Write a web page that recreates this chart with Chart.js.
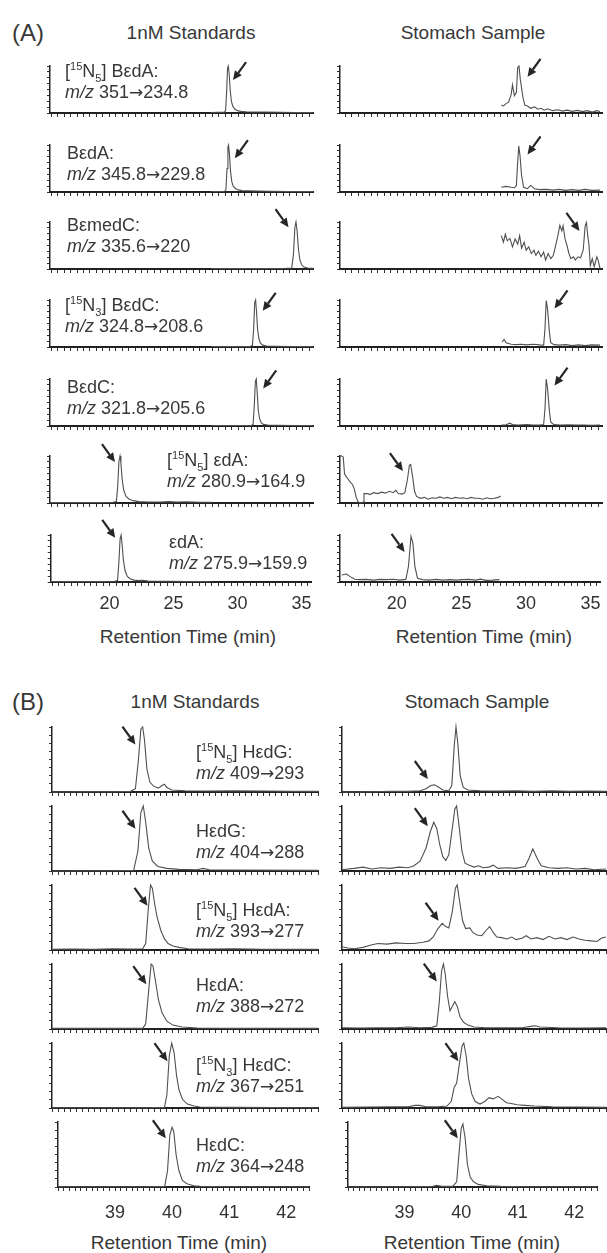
<!DOCTYPE html>
<html>
<head>
<meta charset="utf-8">
<script src="https://cdn.jsdelivr.net/npm/chart.js@4.4.1/dist/chart.umd.min.js"></script>
<style>
  body { margin: 0; background: #fff; }
  #page { position: relative; width: 607px; height: 1253px; overflow: hidden;
          font-family: "Liberation Sans", Arial, sans-serif; color: #383838; }
  canvas { position: absolute; }
  .t { position: absolute; white-space: nowrap; }
  .head { font-size: 19px; width: 300px; text-align: center; line-height: 24px; }
  .tag { font-size: 24px; line-height: 28px; }
  .lab { font-size: 18px; line-height: 21px; }
  .lab sup, .lab sub { font-size: 11px; line-height: 0; }
  .arr { font-family: "DejaVu Sans", sans-serif; font-size: 17px; }
</style>
</head>
<body>
<div id="page">
  <div class="t tag" style="left:12px; top:19px">(A)</div>
  <div class="t head" style="left:41px; top:21px">1nM Standards</div>
  <div class="t head" style="left:323px; top:21px">Stomach Sample</div>
  <div class="t head" style="left:38px; top:625px">Retention Time (min)</div>
  <div class="t head" style="left:334px; top:625px">Retention Time (min)</div>

  <div class="t tag" style="left:12px; top:688px">(B)</div>
  <div class="t head" style="left:45px; top:690px">1nM Standards</div>
  <div class="t head" style="left:327px; top:690px">Stomach Sample</div>
  <div class="t head" style="left:29px; top:1231px">Retention Time (min)</div>
  <div class="t head" style="left:322px; top:1231px">Retention Time (min)</div>
</div>
<script>
// tick labels
const ticksA = [20, 25, 30, 35];
const ticksB = [39, 40, 41, 42];

// panel captions
const namesA = ['BεdA', 'BεdA', 'BεmedC', 'BεdC', 'BεdC', 'εdA', 'εdA'];
const isotopesA = ['15N5', '', '', '15N3', '', '15N5', ''];
const transitionsA = ['351→234.8', '345.8→229.8', '335.6→220', '324.8→208.6', '321.8→205.6', '280.9→164.9', '275.9→159.9'];
const namesB = ['HεdG', 'HεdG', 'HεdA', 'HεdA', 'HεdC', 'HεdC'];
const isotopesB = ['15N5', '', '15N5', '', '15N3', ''];
const transitionsB = ['409→293', '404→288', '393→277', '388→272', '367→251', '364→248'];

// (A) 1nM standards, [time (min), relative intensity]
const stdA1 = [[27.9,0.01],[28.4,0.015],[28.9,0.015],[29.02,0.05],[29.1,0.45],[29.17,0.95],[29.23,1.0],[29.3,0.82],[29.38,0.48],[29.47,0.25],[29.58,0.14],[29.75,0.08],[29.95,0.05],[30.2,0.035],[30.6,0.025],[31.3,0.02],[32.2,0.02],[33.2,0.015],[34.5,0.01],[35.8,0.01]];
const stdA2 = [[27.9,0.01],[28.5,0.01],[28.95,0.015],[29.05,0.06],[29.13,0.5],[29.2,0.96],[29.25,1.0],[29.32,0.8],[29.4,0.45],[29.5,0.22],[29.62,0.12],[29.8,0.07],[30.0,0.045],[30.3,0.03],[30.8,0.025],[31.5,0.02],[32.5,0.015],[33.8,0.01],[35.8,0.01]];
const stdA3 = [[27.9,0.01],[29.0,0.01],[30.5,0.01],[32.0,0.01],[33.5,0.012],[34.15,0.02],[34.28,0.3],[34.4,0.9],[34.48,1.0],[34.57,0.8],[34.67,0.42],[34.78,0.2],[34.92,0.09],[35.1,0.04],[35.4,0.02],[35.8,0.015]];
const stdA4 = [[27.9,0.01],[29.0,0.01],[30.0,0.01],[30.9,0.012],[31.1,0.03],[31.2,0.4],[31.28,0.95],[31.35,1.0],[31.42,0.75],[31.5,0.38],[31.6,0.18],[31.72,0.08],[31.9,0.04],[32.2,0.02],[32.8,0.015],[34.0,0.01],[35.8,0.01]];
const stdA5 = [[27.9,0.01],[29.0,0.01],[30.2,0.01],[31.0,0.012],[31.15,0.03],[31.25,0.45],[31.33,0.95],[31.4,1.0],[31.47,0.72],[31.55,0.35],[31.65,0.16],[31.78,0.07],[31.95,0.035],[32.3,0.02],[33.0,0.015],[34.2,0.01],[35.8,0.01]];
const stdA6 = [[15.4,0.01],[16.5,0.01],[17.5,0.012],[18.5,0.01],[19.5,0.012],[20.3,0.015],[20.55,0.03],[20.65,0.35],[20.75,0.9],[20.83,1.0],[20.9,0.85],[21.0,0.5],[21.12,0.27],[21.3,0.14],[21.55,0.08],[21.85,0.05],[22.3,0.03],[23.0,0.02],[24.0,0.02],[24.6,0.03],[25.2,0.02],[26.0,0.025],[27.0,0.015],[27.9,0.015]];
const stdA7 = [[15.4,0.01],[16.5,0.012],[17.5,0.01],[18.5,0.012],[19.5,0.01],[20.4,0.015],[20.62,0.03],[20.72,0.4],[20.82,0.92],[20.9,1.0],[20.97,0.82],[21.07,0.48],[21.2,0.25],[21.38,0.12],[21.6,0.07],[21.9,0.04],[22.3,0.03],[22.6,0.035],[23.0,0.02],[24.0,0.015],[25.0,0.015],[26.0,0.012],[27.0,0.012],[27.9,0.01]];

// (A) stomach sample
const smpA1 = [[28.04,0.17],[28.2,0.15],[28.4,0.2],[28.6,0.23],[28.8,0.4],[28.9,0.6],[29.05,0.37],[29.2,0.44],[29.3,0.97],[29.4,1.0],[29.5,0.72],[29.7,0.34],[29.85,0.17],[30.05,0.15],[30.3,0.1],[30.6,0.13],[30.85,0.08],[31.1,0.1],[31.35,0.06],[31.6,0.09],[32.0,0.05],[32.4,0.07],[32.75,0.04],[33.1,0.06],[33.5,0.035],[33.9,0.055],[34.3,0.03],[34.65,0.05],[35.05,0.02],[35.4,0.05],[35.65,0.03]];
const smpA2 = [[28.04,0.1],[28.4,0.12],[28.8,0.1],[29.05,0.09],[29.2,0.14],[29.28,0.56],[29.38,0.98],[29.48,0.77],[29.6,0.35],[29.76,0.1],[30.05,0.07],[30.3,0.14],[30.6,0.07],[31.0,0.05],[31.5,0.055],[32.0,0.04],[32.5,0.055],[33.0,0.035],[33.5,0.05],[34.0,0.035],[34.5,0.055],[35.0,0.035],[35.65,0.04]];
const smpA3 = [[28.04,0.71],[28.2,0.57],[28.35,0.74],[28.5,0.6],[28.7,0.65],[28.9,0.47],[29.1,0.64],[29.3,0.53],[29.45,0.71],[29.6,0.44],[29.8,0.57],[29.95,0.4],[30.15,0.47],[30.35,0.33],[30.55,0.4],[30.7,0.29],[30.9,0.38],[31.1,0.26],[31.3,0.36],[31.45,0.19],[31.65,0.33],[31.85,0.22],[32.05,0.29],[32.2,0.47],[32.4,0.71],[32.55,0.93],[32.7,0.81],[32.8,0.92],[32.95,0.64],[33.1,0.5],[33.25,0.33],[33.4,0.22],[33.6,0.26],[33.75,0.19],[33.95,0.26],[34.15,0.24],[34.35,0.4],[34.5,0.92],[34.6,0.99],[34.7,0.71],[34.8,0.5],[34.9,0.07],[35.05,0.22],[35.2,0.05],[35.4,0.26],[35.5,0.19],[35.65,0.01]];
const smpA4 = [[28.1,0.11],[28.25,0.16],[28.4,0.09],[28.8,0.06],[29.2,0.05],[29.6,0.06],[29.95,0.045],[30.5,0.06],[31.0,0.045],[31.3,0.04],[31.4,0.37],[31.5,0.99],[31.6,0.81],[31.75,0.3],[31.85,0.09],[32.1,0.05],[32.5,0.04],[33.0,0.05],[33.5,0.03],[34.0,0.045],[34.5,0.03],[35.0,0.045],[35.65,0.04]];
const smpA5 = [[28.05,0.02],[28.4,0.025],[28.7,0.06],[28.9,0.03],[29.3,0.02],[29.7,0.025],[30.0,0.03],[30.5,0.02],[31.0,0.02],[31.3,0.03],[31.4,0.35],[31.5,1.0],[31.6,0.8],[31.75,0.3],[31.85,0.08],[32.1,0.03],[32.6,0.02],[33.2,0.025],[33.8,0.02],[34.4,0.02],[35.0,0.015],[35.65,0.02]];
const smpA6 = [[15.6,1.0],[15.75,1.0],[15.85,0.98],[15.95,0.62],[16.1,0.55],[16.25,0.5],[16.4,0.44],[16.55,0.4],[16.7,0.3],[16.85,0.12],[17.0,0.02],[17.2,0.0],[17.4,0.02],[17.45,0.2],[17.7,0.2],[17.9,0.18],[18.2,0.22],[18.5,0.2],[18.8,0.23],[19.1,0.21],[19.4,0.25],[19.7,0.22],[19.9,0.27],[20.1,0.2],[20.4,0.19],[20.6,0.22],[20.8,0.5],[20.95,0.8],[21.05,0.82],[21.2,0.55],[21.35,0.25],[21.5,0.14],[21.8,0.1],[22.1,0.12],[22.4,0.08],[22.7,0.11],[23.0,0.1],[23.3,0.13],[23.6,0.1],[23.9,0.12],[24.2,0.09],[24.5,0.12],[24.8,0.1],[25.1,0.11],[25.4,0.09],[25.7,0.12],[26.0,0.1],[26.3,0.1],[26.6,0.08],[26.9,0.11],[27.2,0.09],[27.5,0.1],[27.8,0.12],[28.0,0.15]];
const smpA7 = [[15.73,0.15],[16.1,0.17],[16.35,0.12],[16.75,0.06],[17.1,0.05],[17.6,0.055],[18.2,0.04],[18.7,0.055],[19.2,0.05],[19.7,0.06],[20.2,0.04],[20.7,0.055],[20.9,0.33],[21.1,0.97],[21.25,0.82],[21.4,0.33],[21.6,0.08],[22.0,0.05],[22.5,0.04],[23.05,0.055],[23.55,0.04],[24.1,0.05],[24.6,0.04],[25.1,0.05],[25.6,0.055],[26.1,0.04],[26.5,0.06],[26.9,0.035],[27.4,0.04],[27.95,0.05]];

// (B) 1nM standards
const stdB1 = [[38.0,0.0],[38.5,0.005],[39.0,0.005],[39.3,0.01],[39.38,0.05],[39.43,0.5],[39.47,0.97],[39.5,1.0],[39.53,0.8],[39.57,0.35],[39.62,0.15],[39.68,0.09],[39.76,0.06],[39.82,0.1],[39.86,0.12],[39.9,0.07],[39.98,0.03],[40.2,0.02],[40.6,0.015],[41.0,0.02],[41.5,0.015],[42.0,0.01],[42.4,0.01]];
const stdB2 = [[38.0,0.0],[39.0,0.005],[39.35,0.01],[39.42,0.3],[39.47,0.9],[39.51,1.0],[39.55,0.75],[39.6,0.35],[39.66,0.15],[39.75,0.07],[39.9,0.04],[40.1,0.025],[40.4,0.02],[40.5,0.04],[40.6,0.02],[41.0,0.015],[42.4,0.01]];
const stdB3 = [[38.0,0.01],[38.3,0.015],[38.7,0.01],[39.0,0.02],[39.3,0.015],[39.5,0.02],[39.55,0.1],[39.59,0.6],[39.63,1.0],[39.66,0.95],[39.7,0.7],[39.74,0.5],[39.8,0.3],[39.86,0.17],[39.92,0.1],[40.0,0.06],[40.1,0.04],[40.25,0.02],[40.6,0.015],[41.0,0.02],[41.5,0.01],[42.4,0.01]];
const stdB4 = [[38.0,0.01],[39.0,0.01],[39.5,0.01],[39.55,0.08],[39.6,0.6],[39.64,1.0],[39.67,0.97],[39.71,0.75],[39.76,0.45],[39.82,0.25],[39.9,0.12],[40.0,0.06],[40.15,0.03],[40.4,0.015],[41.0,0.01],[42.4,0.01]];
const stdB5 = [[38.0,0.005],[39.5,0.005],[39.86,0.01],[39.9,0.2],[39.94,0.8],[39.98,1.0],[40.02,0.85],[40.06,0.5],[40.1,0.28],[40.16,0.13],[40.24,0.06],[40.35,0.03],[40.45,0.015],[41.0,0.01],[42.4,0.005]];
const stdB6 = [[38.0,0.005],[39.5,0.005],[39.87,0.01],[39.92,0.25],[39.96,0.8],[40.0,0.92],[40.03,0.85],[40.07,0.5],[40.12,0.25],[40.18,0.1],[40.26,0.05],[40.38,0.02],[40.5,0.01],[41.0,0.005],[42.4,0.005]];

// (B) stomach sample
const smpB1 = [[38.0,0.0],[38.5,0.005],[38.8,0.01],[39.1,0.01],[39.3,0.02],[39.4,0.05],[39.48,0.1],[39.54,0.11],[39.6,0.08],[39.68,0.03],[39.78,0.02],[39.83,0.1],[39.87,0.7],[39.9,1.0],[39.93,0.75],[39.97,0.25],[40.02,0.07],[40.1,0.03],[40.3,0.02],[40.6,0.015],[40.9,0.02],[41.2,0.01],[41.5,0.02],[41.8,0.01],[42.1,0.015],[42.4,0.01]];
const smpB2 = [[38.0,0.02],[38.2,0.04],[38.35,0.06],[38.5,0.03],[38.65,0.05],[38.8,0.04],[38.95,0.06],[39.1,0.05],[39.2,0.08],[39.3,0.15],[39.4,0.35],[39.47,0.6],[39.53,0.75],[39.58,0.65],[39.63,0.4],[39.68,0.22],[39.73,0.16],[39.78,0.25],[39.83,0.6],[39.88,0.95],[39.91,1.0],[39.95,0.7],[40.0,0.3],[40.05,0.12],[40.12,0.09],[40.2,0.06],[40.28,0.08],[40.35,0.05],[40.45,0.06],[40.52,0.09],[40.6,0.04],[40.75,0.05],[40.9,0.04],[41.05,0.07],[41.12,0.2],[41.18,0.34],[41.25,0.2],[41.32,0.08],[41.45,0.05],[41.6,0.04],[41.75,0.05],[41.9,0.03],[42.05,0.04],[42.2,0.02],[42.4,0.03]];
const smpB3 = [[38.0,0.05],[38.1,0.03],[38.2,0.02],[38.35,0.04],[38.5,0.08],[38.6,0.1],[38.75,0.09],[38.9,0.11],[39.05,0.1],[39.2,0.1],[39.35,0.12],[39.45,0.14],[39.52,0.2],[39.6,0.33],[39.67,0.41],[39.73,0.36],[39.78,0.34],[39.84,0.6],[39.89,0.95],[39.92,1.0],[39.96,0.75],[40.01,0.45],[40.06,0.33],[40.13,0.34],[40.18,0.27],[40.25,0.23],[40.33,0.22],[40.4,0.3],[40.46,0.36],[40.52,0.27],[40.58,0.2],[40.66,0.19],[40.75,0.17],[40.83,0.2],[40.9,0.16],[41.0,0.18],[41.07,0.22],[41.15,0.17],[41.25,0.19],[41.35,0.16],[41.45,0.21],[41.55,0.17],[41.65,0.19],[41.75,0.16],[41.85,0.2],[41.95,0.17],[42.05,0.15],[42.15,0.14],[42.25,0.13],[42.32,0.18],[42.4,0.2]];
const smpB4 = [[38.0,0.02],[38.3,0.015],[38.6,0.02],[38.9,0.02],[39.1,0.03],[39.3,0.02],[39.5,0.025],[39.58,0.05],[39.62,0.4],[39.66,0.9],[39.69,1.0],[39.72,0.85],[39.76,0.5],[39.8,0.28],[39.84,0.35],[39.88,0.42],[39.92,0.35],[39.97,0.18],[40.03,0.1],[40.1,0.06],[40.2,0.03],[40.4,0.02],[40.7,0.02],[41.0,0.02],[41.15,0.04],[41.22,0.05],[41.3,0.03],[41.6,0.02],[42.0,0.015],[42.4,0.02]];
const smpB5 = [[38.0,0.01],[38.4,0.015],[38.8,0.02],[39.1,0.02],[39.22,0.04],[39.3,0.04],[39.4,0.02],[39.6,0.02],[39.75,0.03],[39.82,0.1],[39.87,0.32],[39.91,0.38],[39.96,0.7],[40.0,0.95],[40.03,1.0],[40.07,0.8],[40.11,0.45],[40.16,0.22],[40.22,0.1],[40.3,0.06],[40.38,0.1],[40.45,0.16],[40.52,0.14],[40.6,0.18],[40.66,0.14],[40.74,0.08],[40.82,0.07],[40.92,0.05],[41.05,0.04],[41.2,0.03],[41.5,0.02],[42.0,0.015],[42.4,0.01]];
const smpB6 = [[38.0,0.0],[39.0,0.005],[39.5,0.01],[39.57,0.025],[39.65,0.01],[39.85,0.01],[39.92,0.08],[39.96,0.5],[40.0,0.9],[40.03,0.97],[40.07,0.75],[40.11,0.35],[40.16,0.15],[40.22,0.08],[40.3,0.04],[40.45,0.02],[40.7,0.01],[41.2,0.005],[42.4,0.005]];

// arrow tips (time, intensity) and direction
const arrowsStdA = [[29.6,0.7,'dl'],[29.74,0.72,'dl'],[33.9,0.89,'dr'],[31.9,0.77,'dl'],[31.94,0.8,'dl'],[20.44,0.87,'dr'],[20.44,0.94,'dr']];
const arrowsSmpA = [[30.06,0.77,'dl'],[30.06,0.8,'dl'],[34.06,0.81,'dr'],[32.14,0.82,'dl'],[32.14,0.86,'dl'],[20.45,0.68,'dr'],[20.6,0.64,'dr']];
const arrowsStdB = [[39.38,0.73,'dr'],[39.38,0.65,'dr'],[39.58,0.68,'dr'],[39.56,0.69,'dr'],[39.91,0.72,'dr'],[39.89,0.75,'dr']];
const arrowsSmpB = [[39.43,0.2,'dr'],[39.43,0.69,'dr'],[39.61,0.45,'dr'],[39.58,0.73,'dr'],[39.94,0.72,'dr'],[39.94,0.75,'dr']];

const arrowPlugin = {
  id: 'arrows',
  afterDatasetsDraw(chart, args, opts) {
    const {ctx, scales: {x, y}} = chart;
    (opts.items || []).forEach(([t, v, dir]) => {
      const tx = x.getPixelForValue(t), ty = y.getPixelForValue(v);
      const sx = tx + (dir === 'dl' ? 13 : -13), sy = ty - 18;
      const ang = Math.atan2(ty - sy, tx - sx);
      const hl = 9, hw = 4.2;
      const bx = tx - hl * Math.cos(ang), by = ty - hl * Math.sin(ang);
      ctx.save();
      ctx.strokeStyle = '#262626';
      ctx.fillStyle = '#262626';
      ctx.lineWidth = 2.2;
      ctx.beginPath(); ctx.moveTo(sx, sy); ctx.lineTo(bx, by); ctx.stroke();
      ctx.beginPath();
      ctx.moveTo(tx, ty);
      ctx.lineTo(bx + hw * Math.sin(ang), by - hw * Math.cos(ang));
      ctx.lineTo(bx - hw * Math.sin(ang), by + hw * Math.cos(ang));
      ctx.closePath(); ctx.fill();
      ctx.restore();
    });
  }
};

const page = document.getElementById('page');
const padT = 16, padR = 2, yW = 5;

function makePanel(geo, sec, top, isBottom, trace, arrow) {
  const xH = isBottom ? 40 : 6;
  const w = geo.right - geo.axisX + yW + padR;
  const h = padT + sec.h + xH;
  const cv = document.createElement('canvas');
  cv.width = w; cv.height = h;
  cv.style.left = (geo.axisX - yW) + 'px';
  cv.style.top = (top - padT) + 'px';
  cv.style.width = w + 'px'; cv.style.height = h + 'px';
  page.appendChild(cv);
  new Chart(cv, {
    type: 'line',
    data: {
      datasets: [{
        data: trace.map(p => ({x: p[0], y: p[1]})),
        borderColor: '#505050', borderWidth: 1.1,
        pointRadius: 0, tension: 0, clip: false
      }]
    },
    options: {
      responsive: false, animation: false,
      layout: {padding: {top: padT, right: padR, left: 0, bottom: 0}},
      plugins: {legend: {display: false}, tooltip: {enabled: false}, arrows: {items: [arrow]}},
      scales: {
        x: {
          type: 'linear', min: geo.min, max: geo.max,
          afterFit: s => { s.height = xH; },
          border: {display: true, color: '#222', width: 2},
          grid: {drawOnChartArea: false, drawTicks: true, tickLength: 4, color: '#333', lineWidth: 1},
          ticks: {
            display: isBottom, stepSize: sec.step, autoSkip: false, includeBounds: false,
            maxRotation: 0, minRotation: 0, padding: sec.labelPad, color: '#333',
            font: {family: 'Liberation Sans', size: 18},
            callback: v => {
              const l = sec.labels.find(n => Math.abs(n - v) < 1e-6);
              return l === undefined ? '' : String(l);
            }
          }
        },
        y: {
          min: 0, max: 1,
          afterFit: s => { s.width = yW; },
          border: {display: true, color: '#222', width: 1.5},
          grid: {drawOnChartArea: false, drawTicks: true, tickLength: 3, color: '#333', lineWidth: 1},
          ticks: {display: false, stepSize: 0.125}
        }
      }
    },
    plugins: [arrowPlugin]
  });
}

function addCaption(x, cy, iso, name, trans) {
  const d = document.createElement('div');
  d.className = 't lab';
  d.style.left = x + 'px';
  d.style.top = (cy - 10.5) + 'px';
  const pre = iso ? `[<sup>${iso.slice(0, 2)}</sup>N<sub>${iso.slice(3)}</sub>] ` : '';
  const tr = trans.replace('→', '<span class="arr">→</span>');
  d.innerHTML = `${pre}${name}:<br><i>m/z</i> ${tr}`;
  page.appendChild(d);
}

const sectionA = {
  geo: [{axisX: 50, right: 313, min: 15.4, max: 35.8}, {axisX: 340, right: 602, min: 15.6, max: 35.8}],
  tops: [66, 145, 222, 300, 379, 456, 535], h: 47, step: 0.5, labels: ticksA, labelPad: 7,
  traces: [[stdA1, stdA2, stdA3, stdA4, stdA5, stdA6, stdA7], [smpA1, smpA2, smpA3, smpA4, smpA5, smpA6, smpA7]],
  arrows: [arrowsStdA, arrowsSmpA]
};
const sectionB = {
  geo: [{axisX: 52, right: 318, min: 38.0, max: 42.4}, {axisX: 342, right: 606, min: 38.0, max: 42.4}],
  tops: [727, 806, 885, 964, 1043, 1122], h: 65, step: 0.1, labels: ticksB, labelPad: 11,
  traces: [[stdB1, stdB2, stdB3, stdB4, stdB5, stdB6], [smpB1, smpB2, smpB3, smpB4, smpB5, smpB6]],
  arrows: [arrowsStdB, arrowsSmpB]
};

[sectionA, sectionB].forEach(sec => {
  sec.geo.forEach((geo, c) => {
    sec.tops.forEach((top, r) => {
      makePanel(geo, sec, top, r === sec.tops.length - 1, sec.traces[c][r], sec.arrows[c][r]);
    });
  });
});

// caption positions (left, first line centre)
const capPosA = [[65, 71], [67, 153], [67, 225], [65, 305], [67, 387], [167, 460], [169, 542]];
const capPosB = [[196, 752], [196, 831], [196, 910], [196, 985], [196, 1065], [196, 1145]];
capPosA.forEach((p, i) => addCaption(p[0], p[1], isotopesA[i], namesA[i], transitionsA[i]));
capPosB.forEach((p, i) => addCaption(p[0], p[1], isotopesB[i], namesB[i], transitionsB[i]));
</script>
</body>
</html>
